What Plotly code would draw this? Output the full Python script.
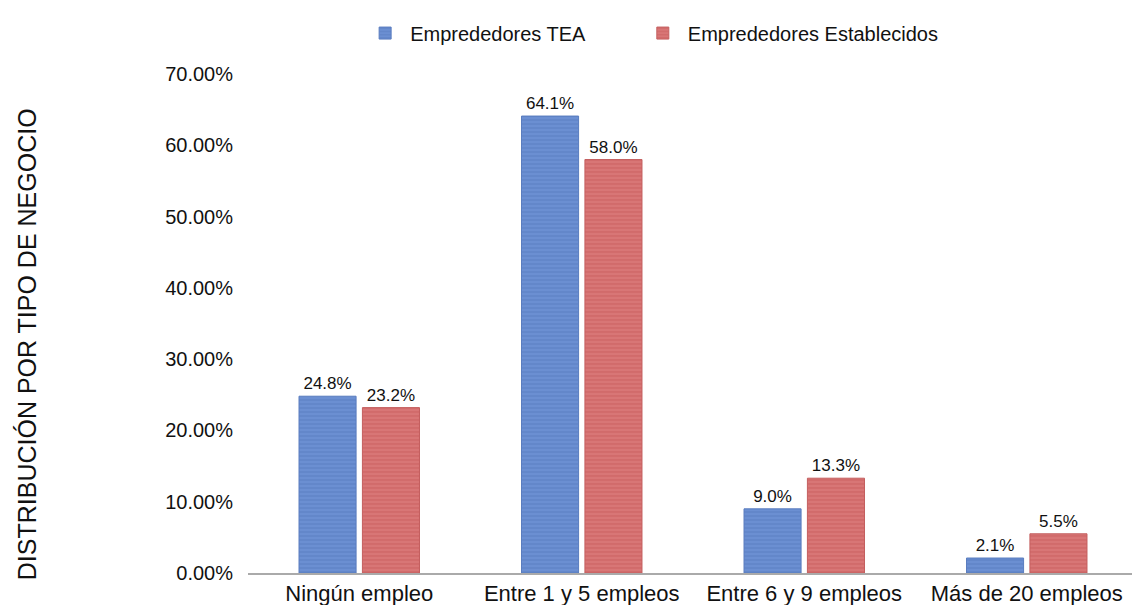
import plotly.graph_objects as go

categorias = ["Ningún empleo", "Entre 1 y 5 empleos", "Entre 6 y 9 empleos", "Más de 20 empleos"]
tea = [24.8, 64.1, 9.0, 2.1]
establecidos = [23.2, 58.0, 13.3, 5.5]
ticks = [0, 10, 20, 30, 40, 50, 60, 70]

fig = go.Figure()

fig.add_trace(go.Bar(
    x=categorias, y=tea, name="Emprededores TEA", legend="legend",
    text=[f"{v:.1f}%" for v in tea], textposition="outside",
    marker=dict(color="#6b8fd2", line=dict(color="#5a7dbf", width=1),
                pattern=dict(shape="-", fgcolor="#5073b6", size=4, solidity=0.3)),
))
fig.add_trace(go.Bar(
    x=categorias, y=establecidos, name="Emprededores Establecidos", legend="legend2",
    text=[f"{v:.1f}%" for v in establecidos], textposition="outside",
    marker=dict(color="#d87676", line=dict(color="#c45f5f", width=1),
                pattern=dict(shape="-", fgcolor="#c25252", size=4, solidity=0.3)),
))

fig.update_traces(textfont=dict(size=17, color="#111"), cliponaxis=False,
                  showlegend=True)

# y title placed by hand, it sits a bit lower than the plot centre
fig.add_annotation(
    text="DISTRIBUCIÓN POR TIPO DE NEGOCIO", textangle=-90,
    xref="paper", yref="paper", x=-0.248, y=0.459,
    xanchor="center", yanchor="middle", showarrow=False,
    font=dict(size=25, color="#111"),
)

leg = dict(orientation="h", xanchor="left", yref="container", y=0.958,
           yanchor="middle", itemwidth=40, font=dict(size=20))

# page has an 8px body margin, so the figure is 8px smaller each way
fig.update_layout(
    width=1132, height=597,
    template="plotly_white",
    showlegend=True,
    font=dict(family="Liberation Sans, Arial", size=20, color="#111"),
    barmode="group", bargap=0.43, bargroupgap=0.1,
    margin=dict(t=66, b=32, l=240, r=2, autoexpand=False),
    legend=dict(leg, x=0.126),
    legend2=dict(leg, x=0.438),
    xaxis=dict(showline=True, linecolor="#aaa", linewidth=2, showgrid=False,
               ticks="", tickfont=dict(size=22)),
    yaxis=dict(range=[0, 70], tickvals=ticks,
               ticktext=[f"{t:.2f}%" for t in ticks],
               showgrid=False, zeroline=False, ticks="",
               ticklabelstandoff=14),
)

fig.write_html("out.html")
